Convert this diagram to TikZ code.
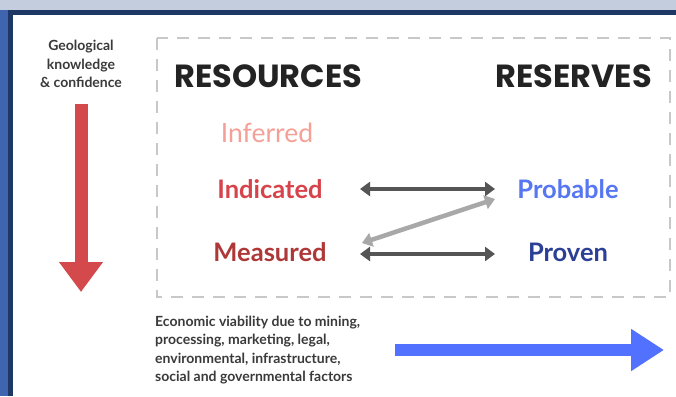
\documentclass[tikz,border=0pt]{standalone}
\usepackage{fontspec}
\setmainfont{Lato}
\newfontfamily\headfont{Poppins}
\usetikzlibrary{arrows.meta, positioning}
\definecolor{rsnavy}{HTML}{1E3866}
\definecolor{rsbluebg}{HTML}{3F65B0}
\definecolor{rsgraybg}{HTML}{C3CDDD}
\definecolor{rsdash}{HTML}{C8C8C8}
\definecolor{rstext}{HTML}{3A3A3A}
\definecolor{rshead}{HTML}{232323}
\definecolor{rsinferred}{HTML}{F4A097}
\definecolor{rsindicated}{HTML}{D7434A}
\definecolor{rsmeasured}{HTML}{AE3838}
\definecolor{rsprobable}{HTML}{5676F2}
\definecolor{rsproven}{HTML}{2C3F96}
\definecolor{rsred}{HTML}{D44A4C}
\definecolor{rsblue}{HTML}{5271FF}
\definecolor{rsdark}{HTML}{555555}
\definecolor{rslight}{HTML}{A8A8A8}
\begin{document}
\begin{tikzpicture}[x=1pt, y=-1pt,
  note/.style={font=\fontsize{14}{18.3}\selectfont\bfseries, text=rstext, inner sep=0pt},
  headline/.style={font=\headfont\fontsize{32}{36}\selectfont\bfseries, text=rshead, inner sep=0pt},
  category/.style={font=\fontsize{25.5}{28}\selectfont\bfseries, inner sep=0pt},
  link/.style={line width=4.5pt, {Triangle[length=10pt,width=14pt]}-{Triangle[length=10pt,width=14pt]}}
]
\useasboundingbox (0,0) rectangle (676,396);
% Screen frame
\fill[rsbluebg] (0,0) rectangle (676,396);
\fill[rsgraybg] (0,0) rectangle (676,10);
\fill[rsnavy] (8,10) rectangle (676,396);
\fill[white] (13,15) rectangle (676,396);
% Dashed box
\draw[rsdash, line width=2.5pt, dash pattern=on 12pt off 9pt] (157,38) rectangle (670,297);
% Left axis
\node[note, align=center] (geo) at (81,64) {Geological\\knowledge\\\& confidence};
\coordinate (geotop) at (81,104);
\coordinate (geobot) at (81,292);
\draw[rsred, line width=13pt, -{Triangle[length=30pt,width=42pt]}] (geotop) -- (geobot);
% Headings
\node[headline, anchor=west] (res) at (174,76) {RESOURCES};
\node[headline, anchor=east] (rsv) at (652,76) {RESERVES};
% Categories
\node[category, font=\fontsize{26.5}{28}\selectfont, text=rsinferred] (inf) at (267,133) {Inferred};
\node[category, text=rsindicated] (ind) at (270,189) {Indicated};
\node[category, text=rsmeasured] (mea) at (270,252) {Measured};
\node[category, text=rsprobable] (pro) at (568,189) {Probable};
\node[category, text=rsproven] (prv) at (568,252) {Proven};
% Links
\coordinate (l1a) at (360,189);
\coordinate (l1b) at (495,189);
\coordinate (l2a) at (360,254);
\coordinate (l2b) at (495,254);
\coordinate (l3a) at (362,243);
\coordinate (l3b) at (495,199);
\draw[link, rsdark] (l1a) -- (l1b);
\draw[link, rsdark] (l2a) -- (l2b);
\draw[link, rslight] (l3a) -- (l3b);
% Bottom axis
\node[note, align=left, anchor=north west] (eco) at (155,316) {Economic viability due to mining,\\processing, marketing, legal,\\environmental, infrastructure,\\social and governmental factors};
\coordinate (ecoa) at (395,350);
\coordinate (ecob) at (664,350);
\draw[rsblue, line width=12pt, -{Triangle[length=33pt,width=40pt]}] (ecoa) -- (ecob);
\end{tikzpicture}
\end{document}
